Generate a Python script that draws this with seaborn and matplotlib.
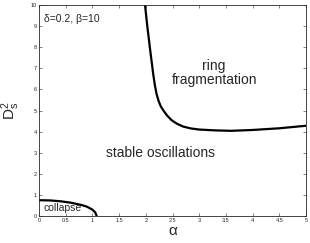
import numpy as np
import pandas as pd
import seaborn as sns
import matplotlib
matplotlib.use("Agg")
import matplotlib.pyplot as plt

# Fronteira colapso / oscilações estáveis
collapse_alpha = [0.0, 0.2, 0.4, 0.6, 0.8, 0.9, 1.0, 1.05, 1.08]
collapse_ds2 = [0.75, 0.74, 0.70, 0.63, 0.52, 0.44, 0.30, 0.18, 0.0]

# Fronteira fragmentação do anel / oscilações estáveis
frag_alpha = [1.985, 2.03, 2.08, 2.11, 2.14, 2.17, 2.20, 2.24, 2.28, 2.33,
              2.40, 2.48, 2.58, 2.70, 2.85, 3.00, 3.30, 3.60, 4.00, 4.50, 5.00]
frag_ds2 = [10.0, 8.95, 7.9, 7.3, 6.7, 6.2, 5.8, 5.45, 5.2, 5.0,
            4.76, 4.55, 4.38, 4.24, 4.15, 4.10, 4.06, 4.04, 4.08, 4.16, 4.28]

xticks = [0, 0.5, 1, 1.5, 2, 2.5, 3, 3.5, 4, 4.5, 5]
yticks = list(range(0, 11))

sns.set_style("ticks")
plt.rcParams['font.family'] = ['Liberation Sans', 'DejaVu Sans']

fig = plt.figure(figsize=(3.1, 2.43), dpi=100)
ax = fig.add_axes([0.126, 0.111, 0.861, 0.868])

df_c = pd.DataFrame({'alpha': collapse_alpha, 'ds2': collapse_ds2})
df_f = pd.DataFrame({'alpha': frag_alpha, 'ds2': frag_ds2})
sns.lineplot(x='alpha', y='ds2', data=df_c, ax=ax, color='black', linewidth=1.6, sort=False)
sns.lineplot(x='alpha', y='ds2', data=df_f, ax=ax, color='black', linewidth=1.6, sort=False)

ax.set_xlim(0, 5)
ax.set_ylim(0, 10)
ax.set_xticks(xticks)
ax.set_xticklabels([f'{t:g}' for t in xticks])
ax.set_yticks(yticks)
ax.tick_params(direction='in', length=2.5, width=0.4, labelsize=4,
               top=True, right=True, pad=1.5)
for s in ax.spines.values():
    s.set_linewidth(0.6)
    s.set_visible(True)

ax.set_xlabel('α', fontsize=11, labelpad=1)
ax.set_ylabel(r'$\mathregular{D_s^2}$', fontsize=11, labelpad=6)

ax.text(0.09, 9.34, 'δ=0.2, β=10', fontsize=7.5, va='center', ha='left')
ax.text(2.28, 2.98, 'stable oscillations', fontsize=10, va='center', ha='center')
ax.text(3.28, 6.8, 'ring\nfragmentation', fontsize=10, va='center', ha='center',
        linespacing=1.0)
ax.text(0.44, 0.38, 'collapse', fontsize=7.5, va='center', ha='center')

fig.savefig('out.png', dpi=100)
